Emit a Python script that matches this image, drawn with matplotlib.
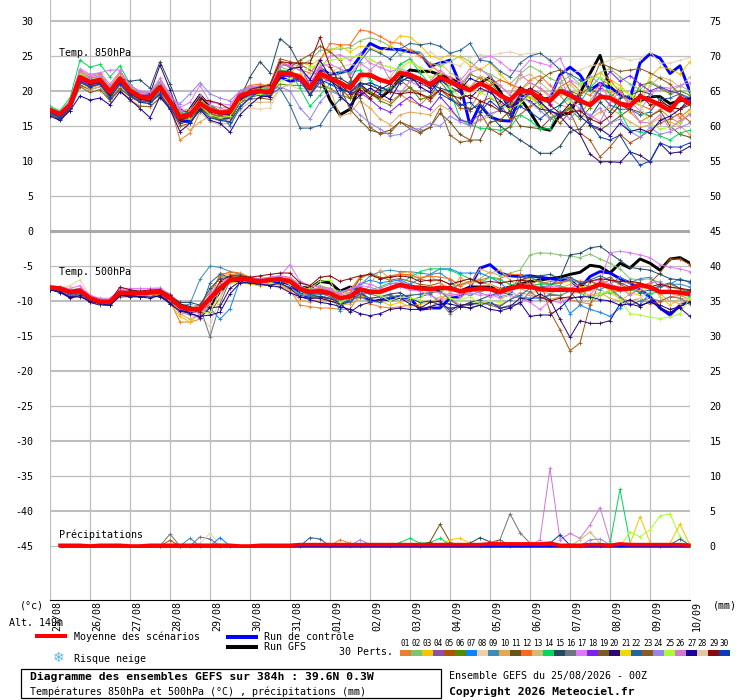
"""
Diagramme des ensembles GEFS sur 384h : temperatures 850hPa, 500hPa et precipitations
"""

#######################################################################################
# Library
import matplotlib
matplotlib.use('Agg')
import matplotlib.pyplot as plt

from matplotlib.patches import Rectangle
from matplotlib.transforms import ScaledTranslation
#######################################################################################

# -------------------------------------------------------------------------------------
# Axis values
hours = [6 * i for i in range(65)]
day_ticks = [24 * i for i in range(17)]
day_labels = ['25/08', '26/08', '27/08', '28/08', '29/08', '30/08', '31/08', '01/09', '02/09',
              '03/09', '04/09', '05/09', '06/09', '07/09', '08/09', '09/09', '10/09']
temp_ticks = [30, 25, 20, 15, 10, 5, 0, -5, -10, -15, -20, -25, -30, -35, -40, -45]
right_ticks = [75, 70, 65, 60, 55, 50, 45, 40, 35, 30, 25, 20, 15, 10, 5, 0]

member_colors = ['#E8812E', '#82C46C', '#F2C500', '#8C50A8', '#AE5408', '#568A00', '#0A84FF',
                 '#E6D3AC', '#3C8CBA', '#E6A850', '#6B5218', '#FA6A1E', '#D0BC78', '#00D85A',
                 '#234A64', '#6B7680', '#E078F8', '#7C20F8', '#7C5A28', '#2E0A70', '#F0D800',
                 '#28649C', '#8C5A20', '#9884EC', '#A8FF30', '#D478D4', '#1E0096', '#E0C8A0',
                 '#8C0808', '#0A3CB8']
# -------------------------------------------------------------------------------------

# -------------------------------------------------------------------------------------
# Temperature 850hPa
t850_mean = [17.3, 16.7, 18.0, 22.0, 21.3, 21.6, 19.9, 21.8, 20.1, 19.2, 19.1, 20.6, 18.5, 16.3, 16.6, 18.2, 17.3, 16.9, 17.0, 19.3, 19.8, 20.0, 19.8,
             22.6, 22.5, 22.0, 20.4, 22.5, 21.8, 21.2, 20.4, 22.3, 22.3, 21.6, 21.2, 22.6, 22.3, 21.7, 20.9, 22.0, 21.3, 20.7, 20.1, 21.1,
             20.4, 19.4, 18.7, 20.1, 19.9, 19.0, 18.6, 20.0, 19.4, 18.6, 18.0, 19.2, 19.0, 18.2, 17.9, 19.2, 18.7, 18.0, 17.2, 19.0, 18.2]
t850_ctrl = [17.0, 15.9, 17.8, 21.4, 20.8, 21.0, 19.2, 21.4, 19.8, 19.0, 18.8, 20.2, 18.4, 15.8, 15.6, 17.6, 16.6, 16.2, 16.2, 18.6, 19.4, 19.6, 19.4,
             22.0, 21.4, 21.6, 20.6, 23.2, 22.4, 22.6, 23.0, 24.9, 26.8, 26.1, 26.0, 25.9, 25.6, 25.4, 23.5, 24.0, 24.4, 21.0, 15.1, 18.0,
             16.3, 15.8, 15.7, 19.2, 19.7, 18.8, 19.0, 22.3, 23.4, 22.3, 20.1, 21.1, 20.4, 19.4, 18.9, 24.0, 25.3, 24.7, 22.5, 23.6, 19.9]
t850_gfs = [17.2, 16.6, 18.0, 21.6, 21.0, 21.2, 19.6, 21.6, 20.0, 19.2, 19.0, 20.4, 18.2, 15.6, 17.4, 19.4, 17.8, 17.0, 16.8, 19.0, 19.6, 19.8, 19.8,
            22.4, 22.2, 21.8, 20.2, 22.0, 18.7, 16.6, 17.4, 20.8, 19.7, 19.0, 20.1, 21.8, 23.0, 22.8, 22.8, 22.3, 21.8, 21.1, 20.1, 21.1,
            22.0, 20.0, 17.3, 19.0, 17.0, 14.7, 14.4, 16.6, 16.8, 19.7, 22.5, 25.1, 20.6, 19.4, 18.9, 18.6, 19.2, 19.2, 18.2, 18.6, 19.0]

t850_01 = [17.0, 16.5, 18.2, 22.5, 21.0, 21.2, 19.4, 21.3, 19.8, 19.0, 18.8, 20.0, 18.0, 13.0, 14.0, 17.0, 17.6, 17.2, 17.4, 19.6, 20.4, 20.6, 20.2,
           23.0, 22.6, 22.4, 21.0, 23.4, 22.0, 20.5, 19.0, 20.6, 19.8, 19.0, 18.4, 19.5, 18.6, 18.0, 19.4, 20.2, 19.0, 18.2, 17.5, 19.8,
           20.4, 19.2, 18.0, 20.0, 21.6, 22.2, 20.8, 19.4, 17.6, 16.6, 18.6, 20.4, 19.8, 18.4, 17.0, 15.6, 16.4, 17.4, 16.2, 15.4, 16.8]
t850_02 = [17.2, 16.8, 18.4, 22.6, 21.8, 22.0, 20.4, 22.2, 20.6, 19.6, 19.2, 20.8, 19.0, 16.8, 17.0, 18.6, 17.8, 17.2, 17.0, 19.4, 20.2, 20.4, 20.6,
           23.4, 23.0, 23.6, 24.4, 25.8, 26.0, 26.0, 26.2, 27.2, 27.6, 27.2, 26.4, 25.2, 26.0, 25.4, 24.0, 23.6, 24.2, 25.0, 24.2, 23.0,
           22.4, 21.6, 21.0, 22.4, 23.6, 22.8, 21.8, 21.2, 22.2, 21.0, 21.8, 22.6, 23.2, 22.0, 21.0, 20.2, 21.4, 20.6, 19.8, 20.8, 20.0]
t850_03 = [17.4, 16.6, 18.0, 21.6, 20.8, 21.0, 19.2, 21.2, 19.6, 18.6, 18.4, 20.0, 18.2, 16.2, 16.0, 17.6, 16.8, 16.4, 16.2, 18.6, 19.4, 19.4, 19.2,
           22.4, 22.2, 24.2, 23.6, 24.6, 25.8, 26.4, 25.6, 26.4, 26.2, 25.6, 26.4, 27.9, 27.7, 26.6, 25.0, 24.6, 25.2, 24.8, 23.6, 23.0,
           24.0, 22.4, 21.0, 19.8, 19.0, 18.0, 17.2, 16.6, 17.8, 19.2, 21.4, 22.6, 21.6, 20.8, 19.4, 19.0, 22.0, 23.4, 23.2, 22.4, 24.2]
t850_05 = [16.8, 16.2, 17.6, 21.4, 20.4, 21.0, 19.0, 21.0, 19.2, 18.4, 18.2, 19.6, 17.4, 15.0, 15.4, 17.6, 16.6, 16.0, 15.8, 18.4, 19.8, 20.6, 21.0,
           24.6, 24.2, 23.8, 23.0, 22.0, 21.4, 20.4, 19.0, 19.6, 19.8, 19.2, 20.4, 21.6, 20.4, 19.6, 18.6, 20.2, 19.0, 17.6, 17.2, 18.4,
           19.0, 18.2, 16.0, 16.6, 17.8, 18.6, 17.0, 15.4, 17.0, 14.0, 13.0, 10.6, 12.0, 13.8, 12.6, 13.4, 14.4, 15.4, 16.0, 16.8, 15.6]
t850_06 = [17.2, 16.6, 17.8, 21.8, 21.0, 21.4, 19.6, 21.4, 19.8, 19.0, 18.8, 20.2, 18.2, 16.0, 16.0, 17.6, 16.4, 15.8, 15.6, 18.6, 19.6, 19.8, 19.6,
           21.0, 20.8, 20.8, 20.6, 20.6, 20.4, 19.4, 19.0, 20.8, 19.8, 18.6, 18.0, 19.4, 20.6, 18.8, 19.2, 21.4, 19.6, 20.4, 22.4, 21.8,
           21.4, 19.4, 18.2, 18.6, 19.4, 18.0, 16.2, 16.6, 17.4, 16.0, 17.6, 19.2, 19.0, 20.4, 18.0, 20.8, 21.2, 20.4, 19.6, 20.0, 19.4]
t850_08 = [17.0, 16.4, 17.8, 21.0, 20.0, 20.2, 18.6, 20.6, 18.8, 18.0, 17.6, 19.0, 17.6, 16.0, 17.2, 18.4, 16.2, 15.6, 15.8, 17.2, 17.6, 17.4, 17.6,
           20.4, 20.8, 20.2, 20.6, 21.6, 22.6, 23.4, 23.8, 23.6, 24.4, 23.8, 23.4, 23.0, 24.8, 25.2, 25.6, 24.6, 24.0, 23.6, 24.8, 25.2,
           25.0, 25.4, 25.6, 25.2, 25.4, 25.4, 24.2, 23.2, 22.4, 23.0, 23.6, 23.8, 24.4, 24.8, 24.4, 24.6, 25.6, 24.0, 24.0, 24.4, 24.8]
t850_10 = [17.0, 16.4, 17.8, 21.4, 20.6, 20.8, 19.2, 21.0, 19.4, 18.6, 18.4, 19.4, 17.6, 15.6, 14.4, 15.6, 16.4, 16.2, 16.6, 18.8, 19.6, 20.2, 20.4,
           22.8, 22.4, 21.8, 20.2, 21.4, 20.2, 16.4, 16.8, 18.6, 17.6, 16.0, 15.2, 16.6, 17.0, 16.8, 16.6, 18.0, 17.2, 16.0, 15.0, 15.8,
           16.4, 17.4, 18.8, 20.0, 21.2, 20.4, 19.0, 18.0, 17.6, 16.6, 16.0, 17.0, 17.6, 16.6, 15.6, 14.8, 15.2, 16.2, 15.6, 15.0, 13.8]
t850_11 = [16.6, 16.2, 17.4, 20.8, 20.2, 20.6, 18.8, 20.4, 19.2, 18.4, 18.6, 19.4, 17.8, 15.8, 16.0, 17.4, 16.6, 16.0, 16.2, 18.8, 19.2, 19.4, 19.2,
           22.0, 22.2, 21.6, 19.6, 21.8, 22.4, 20.6, 17.4, 15.8, 14.4, 14.0, 14.4, 15.6, 14.6, 14.0, 14.8, 16.8, 15.6, 13.8, 13.0, 13.0,
           15.6, 15.8, 17.2, 15.0, 14.8, 14.6, 16.0, 16.8, 17.6, 18.6, 15.0, 14.4, 15.4, 16.4, 17.4, 17.0, 16.4, 17.2, 15.0, 13.8, 13.4]
t850_12 = [17.6, 17.0, 18.4, 22.8, 22.0, 22.4, 20.6, 22.6, 20.8, 19.8, 19.6, 21.2, 19.2, 17.0, 17.2, 18.8, 17.6, 17.2, 17.4, 20.0, 20.8, 21.0, 20.6,
           24.2, 23.6, 23.0, 22.6, 24.4, 26.8, 26.6, 26.6, 28.7, 28.5, 27.8, 27.0, 26.8, 25.8, 25.0, 23.8, 22.6, 22.0, 21.4, 20.4, 22.0,
           20.8, 21.6, 21.0, 20.4, 19.2, 18.6, 19.0, 20.6, 21.4, 20.0, 19.4, 20.8, 21.6, 19.8, 18.6, 18.0, 17.4, 18.8, 17.6, 16.2, 17.4]
t850_13 = [17.0, 16.6, 18.0, 21.2, 20.2, 20.6, 19.0, 20.8, 19.4, 18.4, 18.2, 19.8, 17.8, 16.0, 16.0, 17.0, 15.6, 15.2, 15.4, 17.4, 18.4, 18.4, 18.4,
           20.4, 21.0, 21.6, 22.6, 24.0, 23.4, 22.0, 20.8, 21.6, 22.8, 21.4, 22.0, 23.8, 24.6, 23.2, 23.0, 24.0, 22.6, 21.8, 20.6, 22.2,
           21.6, 20.6, 19.8, 21.8, 22.4, 21.2, 20.0, 19.6, 21.0, 19.4, 20.4, 18.6, 20.2, 19.2, 18.6, 18.4, 20.8, 22.0, 21.6, 20.6, 22.0]
t850_14 = [17.8, 17.2, 19.0, 24.4, 23.4, 23.8, 22.0, 23.6, 21.0, 19.6, 19.4, 21.4, 19.4, 17.0, 16.4, 17.8, 17.0, 16.6, 16.8, 19.8, 20.4, 20.6, 20.2,
           23.0, 22.8, 20.4, 17.8, 19.4, 21.0, 22.8, 22.6, 23.0, 21.6, 19.8, 20.6, 23.8, 24.6, 22.6, 21.0, 21.8, 20.2, 16.0, 15.2, 14.7,
           14.6, 14.4, 14.8, 16.6, 15.8, 14.6, 14.6, 18.0, 19.0, 18.4, 20.4, 22.0, 19.4, 17.0, 14.4, 14.2, 14.0, 13.6, 13.0, 14.0, 14.4]
t850_15 = [17.2, 16.6, 18.2, 22.2, 21.2, 21.6, 19.8, 21.8, 21.4, 21.6, 20.4, 24.2, 21.0, 17.4, 16.8, 18.2, 17.4, 16.8, 16.6, 19.0, 22.0, 24.2, 22.6,
           27.5, 26.3, 23.6, 20.8, 22.6, 22.0, 21.8, 21.0, 22.4, 22.0, 21.4, 21.2, 21.8, 21.4, 21.8, 21.0, 20.4, 20.0, 18.2, 17.4, 18.0,
           16.6, 15.0, 14.0, 13.0, 12.1, 11.1, 11.1, 12.1, 14.2, 14.6, 16.2, 18.4, 17.0, 19.0, 19.4, 20.0, 19.6, 18.8, 17.6, 17.4, 18.0]
t850_17 = [17.4, 16.8, 18.6, 23.2, 22.4, 22.6, 23.0, 23.0, 20.8, 20.0, 19.8, 21.4, 19.6, 17.6, 18.4, 20.8, 18.4, 18.2, 18.0, 20.0, 20.6, 20.8, 20.4,
           23.6, 23.8, 23.6, 21.0, 23.2, 25.0, 25.2, 24.4, 25.4, 24.0, 23.4, 22.8, 23.2, 22.6, 21.8, 20.6, 21.6, 20.8, 21.4, 23.2, 24.6,
           25.0, 24.2, 23.0, 22.8, 24.4, 24.0, 23.6, 24.7, 21.6, 20.8, 22.2, 21.0, 18.8, 18.0, 18.4, 17.2, 19.4, 20.6, 20.4, 20.8, 21.2]
t850_18 = [17.0, 16.4, 17.6, 21.6, 20.8, 21.2, 19.6, 21.2, 19.8, 18.8, 18.6, 20.4, 18.4, 16.4, 16.8, 18.4, 17.2, 16.6, 16.6, 18.8, 19.4, 19.6, 19.6,
           22.2, 22.0, 21.4, 19.4, 21.2, 21.6, 21.0, 19.6, 19.8, 18.8, 17.6, 17.0, 18.2, 19.2, 18.0, 17.4, 19.2, 17.6, 15.8, 15.6, 16.6,
           20.6, 19.6, 17.6, 19.4, 20.4, 18.8, 18.2, 20.4, 19.8, 19.0, 18.0, 20.4, 22.8, 21.4, 22.2, 21.0, 20.0, 20.6, 20.0, 19.6, 18.6]
t850_20 = [17.0, 16.6, 18.0, 22.0, 21.0, 21.4, 20.0, 21.4, 20.0, 19.2, 19.6, 23.7, 20.2, 16.0, 16.4, 18.0, 17.0, 16.8, 16.6, 18.8, 19.6, 19.8, 19.8,
           22.6, 22.4, 21.8, 20.6, 22.8, 21.6, 20.4, 19.8, 21.2, 20.8, 20.2, 21.0, 22.4, 21.8, 21.2, 20.4, 21.6, 20.6, 19.8, 19.0, 20.4,
           19.8, 18.6, 17.4, 19.0, 18.6, 17.4, 17.2, 16.4, 14.8, 13.8, 11.0, 9.9, 9.9, 9.8, 11.3, 10.8, 9.9, 12.5, 11.1, 11.3, 12.1]
t850_22 = [16.8, 16.2, 17.4, 21.2, 20.6, 21.0, 19.2, 21.0, 19.4, 18.6, 18.4, 19.8, 18.4, 16.6, 17.0, 18.4, 17.2, 16.8, 15.0, 17.6, 19.0, 19.6, 19.4,
           20.4, 18.0, 14.7, 14.7, 15.1, 17.3, 18.8, 21.4, 24.2, 26.0, 25.4, 24.6, 26.0, 26.8, 26.6, 26.8, 26.4, 25.4, 25.8, 26.8, 24.4,
           24.2, 22.8, 22.0, 24.0, 25.0, 25.4, 24.4, 23.0, 22.4, 21.6, 20.2, 19.6, 18.0, 17.4, 17.4, 16.6, 17.0, 18.8, 19.0, 19.6, 19.0]
t850_23 = [16.6, 16.0, 17.2, 20.6, 19.8, 20.2, 18.6, 20.2, 18.6, 17.8, 17.8, 19.0, 17.6, 15.8, 16.2, 17.6, 16.8, 16.4, 16.4, 18.4, 18.8, 19.0, 18.8,
           24.0, 23.4, 24.4, 25.2, 26.4, 25.6, 24.4, 22.0, 19.0, 14.8, 13.9, 14.0, 15.6, 15.0, 14.2, 14.8, 17.5, 13.7, 12.7, 12.9, 17.0,
           14.6, 13.8, 15.0, 18.0, 20.0, 21.6, 22.6, 23.0, 20.0, 19.4, 20.6, 24.0, 23.4, 22.8, 23.0, 23.2, 22.6, 21.8, 21.0, 19.4, 18.0]
t850_24 = [17.2, 16.6, 18.0, 22.4, 21.8, 22.2, 20.6, 22.0, 20.2, 19.6, 19.4, 20.8, 19.0, 18.2, 19.6, 21.2, 19.6, 19.0, 18.6, 20.0, 20.4, 20.2, 20.0,
           20.6, 20.0, 17.6, 16.0, 18.4, 20.0, 19.4, 18.0, 16.6, 15.4, 14.6, 13.6, 13.8, 14.6, 14.6, 15.4, 15.0, 16.4, 15.6, 15.0, 16.0,
           16.8, 17.2, 18.6, 19.2, 18.4, 17.2, 16.0, 17.2, 16.0, 17.6, 16.4, 17.6, 15.4, 16.0, 14.2, 13.4, 14.8, 13.8, 14.2, 14.8, 15.4]
t850_25 = [17.2, 16.8, 18.4, 22.4, 21.6, 21.8, 20.2, 21.8, 20.4, 19.4, 19.0, 20.6, 18.6, 16.6, 16.2, 18.0, 16.6, 16.2, 16.4, 18.6, 19.2, 19.6, 19.6,
           21.4, 21.8, 22.6, 23.4, 23.8, 24.4, 24.6, 24.8, 25.0, 24.6, 23.8, 23.4, 23.0, 24.2, 23.4, 22.0, 22.4, 20.6, 19.0, 20.2, 19.8,
           19.2, 18.0, 17.4, 18.2, 19.4, 17.8, 19.0, 20.4, 18.4, 21.0, 21.8, 22.0, 21.0, 20.4, 19.4, 18.0, 15.4, 14.6, 14.8, 15.6, 17.2]
t850_26 = [17.6, 17.0, 18.6, 23.0, 22.2, 22.6, 21.0, 22.8, 20.8, 19.8, 19.8, 21.8, 19.6, 17.2, 17.4, 19.4, 18.0, 17.6, 17.6, 19.8, 20.6, 20.6, 20.4,
           24.0, 23.6, 23.0, 21.8, 23.6, 23.8, 23.2, 22.4, 24.0, 23.0, 24.2, 21.6, 19.6, 21.4, 20.6, 21.4, 23.0, 21.8, 20.8, 22.6, 23.2,
           22.0, 20.8, 19.4, 22.4, 21.2, 20.4, 19.4, 22.0, 18.8, 17.4, 16.6, 15.6, 18.4, 20.0, 17.6, 15.6, 15.4, 16.6, 14.6, 15.8, 16.6]
t850_27 = [16.4, 15.8, 17.2, 19.3, 18.7, 19.0, 18.0, 19.9, 18.8, 17.5, 16.2, 19.2, 17.4, 14.2, 15.4, 17.4, 15.8, 15.4, 14.1, 16.6, 18.0, 19.2, 19.2,
           22.0, 23.2, 23.4, 21.6, 24.4, 22.0, 19.2, 18.0, 19.4, 20.4, 19.6, 18.8, 21.2, 22.2, 20.6, 19.8, 21.6, 21.2, 20.2, 21.8, 21.2,
           20.4, 17.6, 18.6, 20.6, 19.8, 18.4, 17.2, 16.6, 18.2, 16.4, 15.2, 14.6, 13.6, 15.4, 14.2, 14.6, 14.0, 15.8, 16.4, 17.4, 19.0]
t850_29 = [17.2, 16.6, 18.0, 21.8, 21.0, 21.2, 19.4, 21.4, 19.6, 18.8, 18.6, 20.2, 18.2, 15.8, 16.4, 18.8, 18.6, 18.2, 17.4, 18.8, 20.2, 20.6, 20.8,
           24.2, 24.0, 24.0, 24.0, 27.7, 23.5, 21.0, 19.6, 20.2, 19.0, 20.6, 19.8, 19.6, 19.8, 19.6, 19.0, 20.2, 19.4, 19.0, 19.4, 18.6,
           18.0, 17.2, 16.8, 19.6, 20.4, 19.6, 18.0, 16.8, 17.0, 17.2, 16.0, 15.4, 16.4, 18.0, 17.4, 19.6, 18.0, 18.4, 17.8, 17.4, 18.4]
t850_30 = [17.0, 16.2, 17.6, 21.4, 20.6, 21.0, 19.0, 21.0, 19.4, 18.4, 18.2, 19.6, 17.6, 15.4, 15.6, 17.2, 16.2, 15.8, 15.6, 17.8, 19.0, 20.0, 20.2,
           22.2, 22.4, 21.8, 19.4, 21.6, 21.0, 20.2, 19.8, 20.8, 21.2, 20.6, 20.0, 21.4, 22.0, 21.8, 21.2, 19.6, 18.8, 18.0, 18.4, 17.0,
           18.6, 17.4, 16.6, 17.8, 17.0, 16.0, 17.2, 18.0, 19.6, 18.2, 15.4, 13.4, 13.0, 13.7, 11.3, 9.4, 10.0, 12.6, 12.0, 12.0, 12.6]
# -------------------------------------------------------------------------------------

# -------------------------------------------------------------------------------------
# Temperature 500hPa
t500_mean = [-8.1, -8.2, -8.7, -8.5, -9.6, -10.1, -10.1, -8.8, -8.9, -8.9, -8.8, -8.7, -9.6, -10.8, -11.2, -11.1, -9.6, -8.2, -7.0, -6.8, -7.0, -7.2, -7.0,
             -6.9, -7.2, -8.3, -8.7, -8.6, -8.9, -9.6, -9.4, -8.3, -8.7, -8.7, -8.2, -7.7, -8.0, -8.2, -8.3, -8.1, -8.2, -8.6, -8.4, -8.2,
             -8.3, -8.7, -8.2, -7.9, -8.0, -8.3, -8.4, -8.4, -8.4, -8.5, -8.2, -7.6, -8.0, -8.3, -8.2, -7.7, -8.0, -8.7, -8.7, -8.8, -9.0]
t500_ctrl = [-8.2, -8.6, -9.4, -8.8, -9.8, -10.2, -10.4, -9.0, -9.2, -9.2, -9.2, -9.2, -10.0, -11.2, -11.6, -11.4, -9.8, -8.4, -7.2, -7.0, -7.4, -7.6, -7.4,
             -7.2, -7.6, -9.0, -9.4, -9.4, -9.8, -10.4, -10.0, -8.8, -9.9, -9.9, -9.6, -9.4, -9.6, -11.2, -11.0, -11.0, -9.6, -9.4, -8.0, -5.3,
             -4.8, -6.0, -6.4, -6.5, -6.4, -6.6, -6.8, -7.0, -7.0, -8.2, -6.5, -5.8, -6.0, -6.8, -7.4, -8.4, -9.4, -11.0, -12.0, -10.6, -10.0]
t500_gfs = [-8.0, -8.4, -8.8, -8.6, -9.6, -10.0, -10.2, -9.0, -9.0, -9.0, -9.0, -8.8, -9.8, -11.0, -11.4, -11.0, -10.8, -8.6, -7.2, -7.0, -7.0, -7.2, -7.0,
            -7.0, -7.0, -8.0, -8.2, -7.2, -7.4, -8.6, -8.0, -8.4, -8.8, -8.6, -8.2, -7.6, -8.0, -8.0, -8.2, -8.4, -8.0, -8.6, -8.0, -8.0,
            -8.0, -8.4, -8.0, -7.6, -7.2, -7.0, -6.8, -6.6, -6.2, -5.9, -4.9, -5.1, -6.0, -4.6, -5.3, -4.0, -4.6, -5.6, -4.0, -3.8, -4.6]

t500_01 = [-8.2, -8.4, -9.2, -8.8, -9.8, -10.4, -10.4, -9.0, -9.0, -9.2, -9.2, -9.0, -10.0, -13.0, -13.0, -12.6, -10.0, -6.0, -6.2, -6.2, -6.6, -7.0, -7.4,
           -7.6, -8.4, -10.6, -10.8, -11.0, -11.0, -11.2, -11.2, -9.0, -10.4, -10.8, -11.0, -10.8, -10.6, -10.8, -11.0, -9.8, -9.6, -10.6, -10.4, -10.2,
           -10.4, -10.6, -9.8, -8.8, -9.2, -9.6, -9.8, -9.4, -9.8, -10.2, -10.4, -9.2, -8.4, -9.6, -10.0, -9.6, -10.4, -10.2, -9.4, -9.2, -9.8]
t500_02 = [-7.8, -8.0, -8.4, -8.2, -9.4, -10.2, -10.2, -8.4, -8.6, -8.6, -8.6, -8.4, -9.2, -10.4, -10.8, -10.6, -8.6, -6.6, -6.4, -6.2, -6.6, -6.8, -6.6,
           -6.4, -6.8, -7.4, -8.0, -7.8, -8.2, -8.6, -8.8, -6.6, -6.2, -6.8, -6.4, -6.2, -6.4, -6.8, -7.2, -7.0, -7.6, -7.8, -7.4, -6.8,
           -5.8, -6.4, -6.0, -5.6, -3.4, -3.1, -3.2, -3.4, -3.6, -3.8, -3.3, -4.0, -4.6, -5.4, -6.8, -7.0, -6.8, -7.4, -8.0, -8.4, -8.6]
t500_03 = [-8.2, -8.6, -9.6, -9.4, -10.0, -10.6, -10.4, -9.4, -9.4, -9.2, -9.2, -9.2, -10.4, -12.2, -13.0, -11.8, -9.8, -8.2, -7.4, -7.4, -7.6, -7.8, -7.8,
           -7.6, -8.2, -9.0, -9.2, -9.6, -9.8, -10.4, -9.8, -9.2, -9.6, -10.0, -10.6, -10.2, -10.8, -10.4, -10.2, -9.4, -9.2, -9.0, -8.6, -8.6,
           -8.4, -8.2, -8.6, -7.0, -6.8, -7.4, -7.6, -7.4, -7.2, -8.0, -7.8, -7.4, -8.6, -8.4, -8.8, -9.2, -7.6, -9.4, -10.6, -9.6, -9.8]
t500_05 = [-8.0, -8.2, -8.6, -8.6, -9.4, -10.0, -10.0, -8.6, -8.8, -8.8, -8.8, -8.4, -9.0, -10.4, -11.6, -11.2, -11.6, -9.6, -6.8, -6.6, -6.8, -6.8, -6.8,
           -6.6, -7.2, -8.6, -8.8, -8.2, -8.6, -9.4, -9.0, -6.8, -6.0, -6.6, -7.0, -6.8, -7.2, -7.6, -7.8, -7.4, -8.4, -7.6, -7.2, -7.4,
           -7.6, -8.2, -8.0, -7.4, -7.6, -7.0, -11.5, -14.1, -17.1, -16.0, -10.6, -7.2, -6.6, -7.6, -8.4, -8.0, -7.4, -6.0, -4.0, -4.0, -4.8]
t500_07 = [-8.0, -8.2, -8.8, -8.4, -9.8, -10.2, -10.2, -8.8, -9.0, -9.0, -9.0, -8.8, -10.0, -10.6, -11.4, -11.8, -11.0, -12.6, -11.1, -7.0, -6.6, -7.0, -7.2,
           -7.0, -7.6, -8.0, -8.6, -8.2, -8.8, -11.4, -9.2, -7.6, -7.0, -7.4, -7.2, -7.0, -7.6, -6.8, -6.2, -5.4, -5.4, -6.0, -6.0, -6.0,
           -6.6, -7.4, -8.6, -9.4, -9.6, -9.6, -9.2, -9.2, -11.8, -10.6, -11.2, -11.6, -12.2, -11.0, -9.8, -10.6, -8.8, -8.0, -7.6, -6.8, -7.4]
t500_08 = [-7.8, -8.0, -7.8, -7.0, -9.2, -9.8, -9.8, -8.6, -8.4, -8.4, -8.2, -8.0, -9.2, -10.8, -11.6, -12.4, -13.6, -9.6, -7.2, -6.8, -7.0, -7.4, -7.8,
           -8.2, -8.6, -9.4, -9.0, -9.2, -8.8, -9.2, -9.4, -9.0, -9.6, -9.4, -9.2, -9.6, -9.0, -9.2, -8.8, -8.6, -7.0, -7.4, -7.4, -7.2,
           -7.6, -8.4, -8.8, -9.2, -9.0, -9.4, -9.6, -10.0, -9.4, -8.2, -8.6, -8.4, -9.0, -9.4, -10.4, -9.6, -8.6, -9.0, -8.8, -9.6, -9.8]
t500_09 = [-8.0, -8.2, -8.6, -8.4, -9.4, -9.8, -10.0, -8.6, -8.8, -8.8, -8.6, -8.6, -9.6, -10.8, -10.4, -6.9, -5.0, -5.2, -5.8, -6.2, -7.0, -7.4, -7.6,
           -7.6, -8.0, -9.0, -9.4, -9.6, -9.0, -8.6, -8.4, -7.8, -6.4, -5.8, -5.6, -5.8, -5.8, -6.0, -6.2, -6.0, -7.0, -8.8, -9.2, -8.6,
           -8.4, -9.4, -9.0, -6.2, -6.6, -7.2, -7.6, -7.4, -7.0, -7.4, -8.0, -8.4, -7.6, -6.6, -7.4, -6.8, -6.6, -8.0, -7.6, -7.6, -8.0]
t500_10 = [-8.0, -8.2, -8.8, -8.6, -9.8, -10.4, -10.2, -9.0, -9.2, -9.0, -9.0, -8.8, -9.8, -11.8, -12.6, -12.0, -10.6, -7.6, -6.6, -6.4, -7.0, -7.2, -7.4,
           -7.8, -8.6, -9.8, -10.2, -9.8, -10.0, -10.6, -10.4, -9.6, -7.6, -5.6, -6.8, -6.0, -5.8, -6.6, -6.4, -7.4, -8.6, -6.6, -7.6, -5.4,
           -6.0, -5.6, -7.0, -8.2, -8.8, -8.6, -9.0, -8.2, -7.6, -8.6, -9.2, -8.8, -9.6, -10.0, -9.0, -8.4, -7.8, -9.0, -10.0, -10.4, -9.8]
t500_12 = [-8.0, -8.4, -8.6, -8.4, -9.6, -10.0, -10.2, -8.8, -8.8, -8.8, -8.6, -8.6, -9.8, -11.2, -11.4, -10.4, -8.8, -6.4, -5.8, -6.0, -6.6, -7.0, -6.8,
           -6.8, -6.8, -8.0, -8.4, -8.2, -8.4, -9.0, -8.4, -6.6, -6.2, -6.8, -6.4, -6.2, -6.2, -6.8, -6.4, -6.6, -6.8, -7.8, -7.2, -7.0,
           -6.6, -6.8, -6.2, -6.2, -7.8, -7.6, -7.2, -7.4, -6.8, -7.2, -7.2, -7.6, -7.0, -7.6, -7.2, -7.6, -8.4, -8.0, -7.6, -8.2, -8.8]
t500_14 = [-7.8, -8.2, -8.8, -8.6, -9.4, -10.0, -10.4, -9.2, -9.0, -9.0, -8.8, -8.6, -9.6, -10.8, -11.2, -11.0, -9.2, -7.8, -7.0, -6.8, -7.2, -7.4, -7.2,
           -7.2, -7.4, -8.2, -8.4, -8.6, -8.6, -9.4, -9.2, -8.2, -8.4, -8.0, -7.4, -7.6, -6.6, -5.8, -5.4, -5.4, -5.6, -6.2, -6.8, -7.4,
           -6.6, -7.0, -7.6, -8.0, -7.8, -7.6, -7.6, -7.8, -8.4, -8.8, -9.6, -9.0, -8.8, -8.6, -8.4, -8.8, -9.0, -8.6, -8.8, -9.0, -9.4]
t500_15 = [-8.0, -8.4, -9.0, -8.8, -9.8, -10.4, -10.2, -8.6, -8.6, -8.8, -8.8, -8.4, -9.2, -10.2, -10.2, -10.6, -8.2, -6.8, -6.6, -6.8, -6.8, -7.0, -7.0,
           -7.0, -7.4, -8.4, -9.2, -9.4, -9.6, -10.2, -10.0, -9.0, -9.6, -9.4, -9.0, -8.8, -9.6, -10.2, -10.0, -10.6, -11.0, -10.8, -10.2, -9.8,
           -9.2, -8.8, -9.0, -7.0, -6.6, -6.4, -6.2, -6.8, -3.4, -3.2, -2.4, -2.2, -3.2, -4.2, -5.2, -5.4, -5.6, -6.2, -6.8, -7.0, -7.2]
t500_16 = [-8.2, -8.6, -9.4, -9.0, -10.2, -10.4, -10.6, -9.4, -9.4, -9.4, -9.4, -9.4, -10.4, -11.6, -12.0, -10.8, -15.1, -10.4, -7.0, -6.6, -7.0, -7.2, -7.2,
           -6.8, -7.4, -8.6, -9.2, -8.8, -9.4, -10.0, -10.2, -8.8, -9.0, -9.4, -9.2, -9.6, -10.0, -9.4, -9.0, -10.2, -11.8, -10.8, -10.6, -10.2,
           -10.6, -11.0, -10.6, -10.4, -8.6, -9.8, -9.0, -9.2, -8.6, -10.4, -7.2, -7.8, -8.2, -9.4, -10.6, -10.0, -9.6, -10.0, -9.4, -9.6, -10.4]
t500_17 = [-7.8, -8.0, -8.2, -7.8, -9.2, -9.8, -9.8, -8.2, -8.2, -8.2, -8.2, -8.2, -9.4, -11.6, -12.0, -12.4, -9.0, -7.4, -6.6, -6.8, -7.0, -7.0, -6.6,
           -6.4, -4.8, -7.2, -7.8, -8.0, -8.4, -8.8, -8.2, -7.8, -8.0, -8.6, -8.2, -8.0, -8.4, -8.6, -9.2, -9.8, -8.8, -9.4, -8.8, -9.2,
           -9.0, -9.6, -9.2, -9.6, -10.2, -11.2, -10.0, -10.2, -9.6, -9.4, -9.2, -7.4, -3.1, -2.9, -3.1, -3.4, -3.8, -4.8, -5.2, -5.4, -5.8]
t500_20 = [-8.4, -8.6, -9.6, -9.2, -10.2, -10.6, -10.6, -9.2, -9.4, -9.4, -9.2, -9.4, -10.2, -10.8, -11.6, -12.4, -11.0, -10.8, -8.2, -7.2, -7.4, -7.6, -7.8,
           -7.4, -8.2, -9.4, -9.6, -9.6, -10.0, -10.4, -11.6, -10.6, -10.2, -9.8, -10.0, -9.6, -10.4, -11.0, -10.2, -10.0, -11.4, -10.6, -10.4, -10.4,
           -10.2, -11.0, -10.8, -9.6, -9.8, -9.0, -9.8, -12.6, -15.2, -12.8, -13.2, -13.2, -12.8, -10.4, -9.8, -10.6, -10.2, -10.6, -11.2, -10.8, -10.2]
t500_22 = [-8.2, -8.4, -9.0, -8.6, -9.6, -10.2, -10.2, -8.8, -9.0, -8.8, -8.8, -8.6, -9.4, -10.6, -10.8, -11.4, -7.4, -6.2, -6.6, -6.6, -6.8, -7.0, -7.0,
           -7.2, -7.6, -8.6, -9.0, -9.0, -9.0, -10.4, -9.8, -9.4, -10.0, -10.2, -9.4, -9.2, -9.2, -9.0, -8.8, -8.6, -9.8, -10.8, -11.0, -10.6,
           -10.2, -10.8, -9.8, -9.2, -8.2, -8.0, -7.8, -6.8, -6.6, -7.4, -7.0, -6.4, -7.0, -7.4, -8.0, -8.8, -8.4, -7.8, -7.4, -8.2, -8.6]
t500_25 = [-7.8, -8.2, -8.4, -8.4, -9.6, -10.6, -10.2, -8.8, -9.0, -9.0, -9.2, -8.8, -9.8, -11.4, -12.0, -11.4, -11.8, -8.4, -7.2, -7.0, -7.4, -7.6, -7.4,
           -7.0, -7.6, -8.4, -8.2, -7.2, -7.0, -10.2, -9.6, -8.4, -8.6, -9.2, -10.0, -9.4, -9.6, -9.8, -8.0, -8.2, -9.6, -9.8, -9.4, -10.4,
           -10.0, -10.2, -8.4, -8.0, -7.4, -8.2, -8.4, -8.6, -8.2, -8.6, -9.6, -9.0, -8.6, -9.8, -11.8, -12.0, -12.3, -12.5, -12.3, -11.8, -9.6]
t500_26 = [-7.8, -8.0, -8.6, -8.2, -9.2, -9.6, -9.6, -8.4, -8.4, -8.6, -8.6, -8.2, -9.0, -10.6, -11.4, -11.8, -10.2, -8.6, -7.0, -6.8, -6.8, -6.8, -6.6,
           -6.4, -6.6, -7.8, -8.4, -8.0, -8.2, -9.2, -8.8, -7.4, -7.6, -8.2, -7.6, -7.2, -7.8, -8.4, -8.6, -8.8, -9.2, -9.0, -8.4, -8.8,
           -9.4, -9.0, -8.6, -8.0, -7.4, -8.2, -7.8, -8.0, -8.2, -7.6, -7.2, -7.0, -7.6, -8.0, -9.2, -8.0, -7.4, -7.2, -8.4, -8.8, -9.0]
t500_27 = [-8.4, -8.8, -9.4, -9.4, -10.0, -10.4, -10.6, -9.2, -9.2, -9.4, -9.6, -9.2, -10.4, -11.4, -11.8, -12.2, -12.0, -11.6, -9.0, -7.4, -7.4, -7.6, -7.8,
           -8.0, -8.8, -9.4, -9.8, -10.2, -10.4, -10.8, -11.2, -11.8, -12.1, -11.8, -11.2, -11.0, -11.2, -11.2, -10.8, -10.4, -10.4, -10.8, -11.0, -10.6,
           -11.2, -11.4, -11.0, -10.2, -12.2, -12.0, -12.0, -11.0, -9.6, -9.4, -9.4, -9.8, -10.0, -10.6, -10.4, -10.8, -10.0, -11.0, -11.6, -11.0, -12.2]
t500_29 = [-8.0, -8.2, -8.6, -8.6, -9.6, -10.2, -10.0, -8.0, -8.4, -8.6, -8.4, -8.4, -9.2, -10.4, -10.8, -11.6, -9.8, -7.2, -6.4, -6.4, -6.6, -6.4, -6.2,
           -6.0, -6.0, -7.4, -7.8, -6.6, -6.4, -7.2, -6.8, -6.4, -6.2, -6.8, -6.6, -6.4, -6.6, -7.2, -7.0, -7.0, -7.6, -7.2, -6.8, -7.4,
           -7.2, -7.4, -7.2, -7.0, -7.2, -9.4, -10.0, -9.6, -9.4, -7.6, -7.2, -6.8, -7.0, -7.2, -7.2, -7.4, -8.0, -7.6, -8.0, -8.2, -8.4]
# -------------------------------------------------------------------------------------

# -------------------------------------------------------------------------------------
# Precipitation, only the hours of each member where it is above the ground line
pr_hours_mean = [6 * i for i in range(1, 65)]
pr_mean = [0.1, 0.1, 0.1, 0.0, 0.1, 0.1, 0.1, 0.0, 0.0, 0.1, 0.1, 0.1, 0.1, 0.1, 0.1, 0.1,
           0.1, 0.1, 0.0, 0.0, 0.1, 0.1, 0.1, 0.1, 0.2, 0.2, 0.2, 0.2, 0.2, 0.2, 0.2, 0.2,
           0.2, 0.2, 0.2, 0.2, 0.2, 0.2, 0.2, 0.2, 0.2, 0.2, 0.2, 0.3, 0.3, 0.3, 0.3, 0.3,
           0.3, 0.4, 0.1, 0.1, 0.1, 0.2, 0.2, 0.1, 0.3, 0.2, 0.2, 0.2, 0.2, 0.2, 0.2, 0.1]
pr_ctrl = [0.0, 0.0, 0.0, 0.0, 0.0, 0.0, 0.0, 0.0, 0.0, 0.0, 0.0, 0.0, 0.0, 0.0, 0.0, 0.0,
           0.0, 0.0, 0.0, 0.0, 0.0, 0.0, 0.0, 0.0, 0.0, 0.0, 0.0, 0.0, 0.0, 0.0, 0.0, 0.0,
           0.0, 0.0, 0.0, 0.0, 0.0, 0.0, 0.0, 0.0, 0.0, 0.0, 0.0, 0.0, 0.0, 0.0, 0.0, 0.0,
           0.0, 0.0, 0.0, 0.0, 0.0, 0.0, 0.0, 0.0, 0.0, 0.0, 0.0, 0.0, 0.0, 0.0, 0.0, 0.0]

pr_hours_16a = [66, 72, 78]
pr_16a = [0.0, 1.7, 0.0]
pr_hours_05a = [66, 72, 78]
pr_05a = [0.0, 0.8, 0.0]
pr_hours_09a = [78, 84, 90]
pr_09a = [0.0, 1.1, 0.0]
pr_hours_16b = [84, 90, 96, 102]
pr_16b = [0.0, 1.3, 1.0, 0.0]
pr_hours_08a = [84, 90, 96, 102]
pr_08a = [0.0, 0.4, 1.8, 0.2]
pr_hours_07a = [96, 102, 108]
pr_07a = [0.0, 1.2, 0.0]
pr_hours_22a = [150, 156, 162, 168]
pr_22a = [0.0, 1.2, 1.0, 0.0]
pr_hours_01a = [168, 174, 180, 186]
pr_01a = [0.0, 0.9, 0.4, 0.0]
pr_hours_24a = [180, 186, 192]
pr_24a = [0.0, 0.9, 0.2]
pr_hours_14a = [204, 210, 216, 222, 228, 234, 240]
pr_14a = [0.0, 0.5, 1.1, 0.4, 0.5, 1.1, 0.2]
pr_hours_11a = [222, 228, 234, 240]
pr_11a = [0.0, 0.6, 3.1, 0.6]
pr_hours_03a = [234, 240, 246, 252, 258]
pr_03a = [0.1, 0.9, 1.1, 0.4, 0.0]
pr_hours_15a = [246, 252, 258, 264]
pr_15a = [0.2, 0.4, 1.2, 0.6]
pr_hours_05b = [258, 264, 270, 276]
pr_05b = [0.1, 0.5, 0.9, 0.0]
pr_hours_16c = [264, 270, 276, 282, 288]
pr_16c = [0.0, 0.9, 4.6, 1.9, 0.4]
pr_hours_25a = [282, 288, 294, 300]
pr_25a = [0.0, 0.6, 0.2, 0.0]
pr_hours_26a = [288, 294, 300, 306, 312, 318, 324, 330, 336]
pr_26a = [0.0, 0.9, 11.1, 0.9, 1.8, 1.1, 3.0, 5.5, 0.7]
pr_hours_30a = [288, 300, 306, 312]
pr_30a = [0.2, 0.4, 1.6, 0.1]
pr_hours_13a = [312, 318, 324, 330]
pr_13a = [0.0, 0.9, 2.0, 0.4]
pr_hours_24b = [318, 324, 330, 336]
pr_24b = [0.0, 0.9, 1.0, 0.2]
pr_hours_14b = [330, 336, 342, 348]
pr_14b = [0.0, 0.4, 8.1, 0.5]
pr_hours_03b = [342, 348, 354, 360]
pr_03b = [0.0, 0.3, 4.2, 0.5]
pr_hours_25b = [342, 348, 354, 360, 366, 372, 378, 384]
pr_25b = [0.0, 2.0, 1.3, 2.3, 4.3, 4.6, 1.3, 0.0]
pr_hours_03c = [366, 372, 378, 384]
pr_03c = [0.0, 0.4, 3.1, 0.1]
pr_hours_22b = [366, 372, 378, 384]
pr_22b = [0.0, 0.2, 1.0, 0.1]
# -------------------------------------------------------------------------------------

# -------------------------------------------------------------------------------------
# Members to draw, with their number in the colour scale
members_850 = [(1, t850_01), (2, t850_02), (3, t850_03), (5, t850_05), (6, t850_06), (8, t850_08),
               (10, t850_10), (11, t850_11), (12, t850_12), (13, t850_13), (14, t850_14), (15, t850_15),
               (17, t850_17), (18, t850_18), (20, t850_20), (22, t850_22), (23, t850_23), (24, t850_24),
               (25, t850_25), (26, t850_26), (27, t850_27), (29, t850_29), (30, t850_30)]
members_500 = [(1, t500_01), (2, t500_02), (3, t500_03), (5, t500_05), (7, t500_07), (8, t500_08),
               (9, t500_09), (10, t500_10), (12, t500_12), (14, t500_14), (15, t500_15), (16, t500_16),
               (17, t500_17), (20, t500_20), (22, t500_22), (25, t500_25), (26, t500_26), (27, t500_27),
               (29, t500_29)]
members_pr = [(16, pr_hours_16a, pr_16a), (5, pr_hours_05a, pr_05a), (9, pr_hours_09a, pr_09a),
              (16, pr_hours_16b, pr_16b), (8, pr_hours_08a, pr_08a), (7, pr_hours_07a, pr_07a),
              (22, pr_hours_22a, pr_22a), (1, pr_hours_01a, pr_01a), (24, pr_hours_24a, pr_24a),
              (14, pr_hours_14a, pr_14a), (11, pr_hours_11a, pr_11a), (3, pr_hours_03a, pr_03a),
              (15, pr_hours_15a, pr_15a), (5, pr_hours_05b, pr_05b), (16, pr_hours_16c, pr_16c),
              (25, pr_hours_25a, pr_25a), (26, pr_hours_26a, pr_26a), (30, pr_hours_30a, pr_30a),
              (13, pr_hours_13a, pr_13a), (24, pr_hours_24b, pr_24b), (14, pr_hours_14b, pr_14b),
              (3, pr_hours_03b, pr_03b), (25, pr_hours_25b, pr_25b), (3, pr_hours_03c, pr_03c),
              (22, pr_hours_22b, pr_22b)]
# -------------------------------------------------------------------------------------

# -------------------------------------------------------------------------------------
# Figure and axes: 7 pixels per degree, 10 pixels per 6 hours
plt.rcParams['font.family'] = ['DejaVu Sans Mono']
sMono = 7.2
iWidth, iHeight = 740, 700
oFig = plt.figure(figsize=(iWidth / 100, iHeight / 100), dpi=100, facecolor='white')

oAx = oFig.add_axes([50 / iWidth, 100 / iHeight, 640 / iWidth, 600 / iHeight])
oAx.set_xlim(0, 384)
oAx.set_ylim((231 - 600) / 7, 231 / 7)
oAxR = oAx.twinx()
oAxR.set_ylim((231 - 600) / 7 + 45, 231 / 7 + 45)
oAxR.patch.set_visible(False)
# -------------------------------------------------------------------------------------

# -------------------------------------------------------------------------------------
# Grid
for dTick in day_ticks:
    oAx.axvline(dTick, color='#BEBEBE', lw=0.9, zorder=1)
for iTick in temp_ticks:
    if iTick == 0:
        oAx.axhline(iTick, color='#A8A8A8', lw=2.2, zorder=1)
    elif iTick % 10 == 0:
        oAx.axhline(iTick, color='#BEBEBE', lw=1.5, zorder=1)
    else:
        oAx.axhline(iTick, color='#BEBEBE', lw=0.9, zorder=1)

for sSide in ['left', 'right', 'top']:
    oAx.spines[sSide].set_visible(False)
    oAxR.spines[sSide].set_visible(False)
oAx.spines['bottom'].set_color('black')
oAx.spines['bottom'].set_linewidth(0.8)
oAxR.spines['bottom'].set_visible(False)

oAx.set_yticks(temp_ticks)
oAx.set_yticklabels([str(i) for i in temp_ticks], fontsize=sMono)
oAx.tick_params(axis='y', length=0, pad=12)
oAxR.set_yticks(right_ticks)
oAxR.set_yticklabels([str(i) for i in right_ticks], fontsize=sMono)
oAxR.tick_params(axis='y', length=0, pad=14)

oAx.set_xticks(day_ticks)
oAx.set_xticklabels(day_labels, rotation=90, fontsize=sMono)
oAx.tick_params(axis='x', length=0, pad=1)
oShift = ScaledTranslation(7 / 100, 0, oFig.dpi_scale_trans)
for oLabel in oAx.get_xticklabels():
    oLabel.set_transform(oLabel.get_transform() + oShift)
# -------------------------------------------------------------------------------------

# -------------------------------------------------------------------------------------
# Series: the runs lie under the members, the mean on top of everything
for a1dVal in [t850_gfs, t500_gfs]:
    oAx.plot(hours[:len(a1dVal)], a1dVal, color='black', lw=2.1, zorder=2)
for a1dVal in [t850_ctrl, t500_ctrl]:
    oAx.plot(hours[:len(a1dVal)], a1dVal, color='#0000FF', lw=2.1, zorder=2.5)
for iNum, a1dVal in members_850 + members_500:
    oAx.plot(hours[:len(a1dVal)], a1dVal, color=member_colors[iNum - 1], lw=0.72, marker='+',
             ms=2.5, mew=0.6, zorder=3)
for a1dVal in [t850_mean, t500_mean]:
    oAx.plot(hours[:len(a1dVal)], a1dVal, color='#FF0000', lw=3.2, zorder=6)

for iNum, a1dHour, a1dVal in members_pr:
    oAxR.plot(a1dHour, a1dVal, color=member_colors[iNum - 1], lw=0.72, marker='+', ms=2.5, mew=0.6, zorder=3)
oAxR.plot(pr_hours_mean, pr_ctrl, color='#0000FF', lw=1.8, zorder=5)
oAxR.plot(pr_hours_mean, pr_mean, color='#FF0000', lw=2.6, zorder=6)
# -------------------------------------------------------------------------------------

# -------------------------------------------------------------------------------------
# Legend and captions, placed in pixels
oPix = oFig.add_axes([0, 0, 1, 1], zorder=10)
oPix.set_xlim(0, iWidth)
oPix.set_ylim(iHeight, 0)
oPix.axis('off')


def writeText(dX, dY, sText, **oArgs):
    oArgs.setdefault('fontsize', sMono)
    oPix.text(dX, dY, sText, va='center', ha='left', **oArgs)


writeText(59, 53, 'Temp. 850hPa')
writeText(59, 272, 'Temp. 500hPa')
writeText(59, 535, 'Précipitations')
writeText(20, 606, '(°c)')
writeText(713, 606, '(mm)')
writeText(9, 623, 'Alt. 149m')

oPix.plot([35, 67], [636, 636], color='#FF0000', lw=2.9, solid_capstyle='butt')
writeText(74, 637, 'Moyenne des scénarios')
oPix.plot([226, 258], [637, 637], color='#0000FF', lw=2.9, solid_capstyle='butt')
writeText(264, 637, 'Run de contrôle')
oPix.plot([226, 258], [647, 647], color='black', lw=2.9, solid_capstyle='butt')
writeText(264, 647, 'Run GFS')
oPix.text(59, 658, '\u2744', fontsize=10, color='#58B4E8', ha='center', va='center', family='DejaVu Sans')
writeText(74, 659, 'Risque neige')
writeText(339, 652, '30 Perts.')

for iIdx, sColor in enumerate(member_colors):
    oPix.add_patch(Rectangle((400 + 11 * iIdx, 650), 11, 6, facecolor=sColor, edgecolor='none'))
    oPix.text(405.5 + 11 * iIdx, 644, '%02d' % (iIdx + 1), fontsize=5.6, ha='center', va='center')

oPix.add_patch(Rectangle((20.5, 668.5), 420, 29, facecolor='white', edgecolor='black', lw=0.9))
writeText(30, 677, 'Diagramme des ensembles GEFS sur 384h : 39.6N 0.3W', fontsize=8.2, fontweight='bold')
writeText(30, 692, 'Températures 850hPa et 500hPa (°C) , précipitations (mm)')
writeText(449, 676, 'Ensemble GEFS du 25/08/2026 - 00Z')
writeText(449, 692, 'Copyright 2026 Meteociel.fr', fontsize=8.2, fontweight='bold')
# -------------------------------------------------------------------------------------

oFig.savefig('out.png', dpi=100, facecolor='white')
